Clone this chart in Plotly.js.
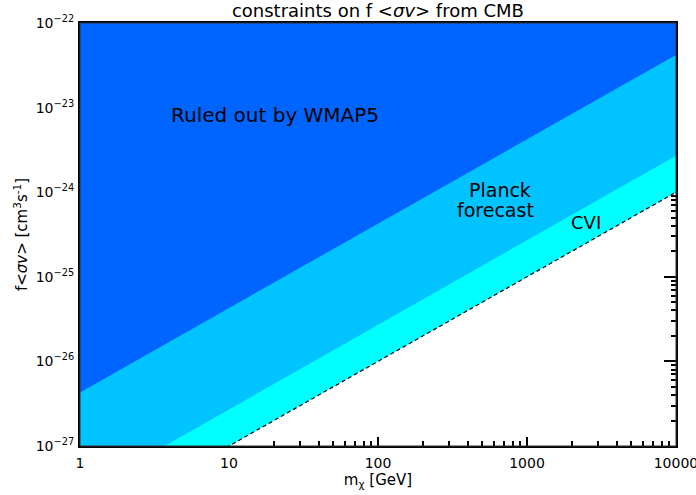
<!DOCTYPE html>
<html>
<head>
<meta charset="utf-8">
<script src="https://cdn.plot.ly/plotly-3.0.1.min.js"></script>
<style>html,body{margin:0;padding:0;background:#fff;}#chart{width:696px;height:495px;}</style>
</head>
<body>
<div id="chart"></div>
<script>
// Data (boundaries of each constraint, at the axis ends)
const mass = [1, 10000];                 // m_chi [GeV]
const wmap5 = [4.3e-27, 4.2e-23];        // WMAP5 ruled-out boundary
const planck = [2.7e-28, 2.7e-24];       // Planck forecast boundary
const cvi = [1.0e-28, 1.0e-24];          // cosmic-variance-limited boundary
const yTop = 1e-22;
const xTickVals = [1, 10, 100, 1000, 10000];
const xTickText = ["1", "10", "100", "1000", "10000"];
const yTickVals = [1e-27, 1e-26, 1e-25, 1e-24, 1e-23, 1e-22];
const yTickText = ["10<sup>−27</sup>", "10<sup>−26</sup>", "10<sup>−25</sup>", "10<sup>−24</sup>", "10<sup>−23</sup>", "10<sup>−22</sup>"];

const FONT = "DejaVu Sans, sans-serif";

function region(line, color, name) {
  return {
    type: "scatter", mode: "lines", name: name,
    x: [mass[0], mass[1], mass[1], mass[0], mass[0]],
    y: [line[0], line[1], yTop, yTop, line[0]],
    fill: "toself", fillcolor: color,
    line: {width: 0, color: color},
    hoverinfo: "skip", showlegend: false
  };
}

const traces = [
  region(cvi, "#00ffff", "CVI"),
  region(planck, "#00c3ff", "Planck"),
  region(wmap5, "#0064ff", "WMAP5"),
  {
    type: "scatter", mode: "lines", x: mass, y: cvi,
    line: {color: "#000", width: 1.2, dash: "4px,3px"},
    hoverinfo: "skip", showlegend: false
  }
];

function minorVals(lo, hi) {
  const v = [];
  for (let e = lo; e < hi; e++) for (let k = 2; k <= 9; k++) v.push(k * Math.pow(10, e));
  return v;
}

const layout = {
  width: 696, height: 495,
  margin: {l: 80, r: 20, t: 23, b: 49},
  paper_bgcolor: "#fff", plot_bgcolor: "#fff",
  font: {family: FONT, size: 14, color: "#000"},
  showlegend: false,
  title: {
    text: "constraints on f &lt;<i>σv</i>&gt; from CMB",
    font: {family: FONT, size: 18, color: "#000"},
    x: 0.543, xanchor: "center", y: 0.979, yanchor: "middle"
  },
  xaxis: {
    type: "log", range: [-0.0002, 4.0002],
    tickmode: "array", tickvals: xTickVals, ticktext: xTickText,
    ticks: "inside", ticklen: 9, tickwidth: 2, tickcolor: "#000",
    minor: {tickmode: "array", tickvals: minorVals(0, 4), ticks: "inside", ticklen: 5, tickwidth: 2, tickcolor: "#000"},
    showline: true, linecolor: "#000", linewidth: 2, mirror: "ticks",
    showgrid: false, zeroline: false, layer: "below traces",
    ticklabelstandoff: 3, ticklabeloverflow: "allow",
    tickfont: {family: FONT, size: 14, color: "#000"},
    title: {text: "m<sub>χ</sub> [GeV]", font: {family: FONT, size: 15, color: "#000"}, standoff: 4}
  },
  yaxis: {
    type: "log", range: [-27.0002, -21.9998],
    tickmode: "array", tickvals: yTickVals, ticktext: yTickText,
    ticks: "inside", ticklen: 12, tickwidth: 2, tickcolor: "#000",
    minor: {tickmode: "array", tickvals: minorVals(-27, -22), ticks: "inside", ticklen: 5, tickwidth: 2, tickcolor: "#000"},
    showline: true, linecolor: "#000", linewidth: 2, mirror: "ticks",
    showgrid: false, zeroline: false, layer: "below traces",
    ticklabelstandoff: 1,
    tickfont: {family: FONT, size: 14, color: "#000"},
    title: {text: "f&lt;<i>σv</i>&gt; [cm<sup>3</sup>s<sup>-1</sup>]", font: {family: FONT, size: 15, color: "#000"}, standoff: 4}
  },
  shapes: [{
    type: "rect", xref: "paper", yref: "paper", x0: 0, x1: 1, y0: 0, y1: 1,
    line: {color: "#333", width: 1}, layer: "above"
  }],
  annotations: [
    {text: "Ruled out by WMAP5", xref: "x", yref: "y", x: Math.log10(20.5), y: Math.log10(8.1e-24),
     showarrow: false, font: {family: FONT, size: 20, color: "#000"}},
    {text: "Planck", xref: "x", yref: "y", x: Math.log10(660), y: Math.log10(1.05e-24),
     showarrow: false, font: {family: FONT, size: 19, color: "#000"}},
    {text: "forecast", xref: "x", yref: "y", x: Math.log10(610), y: Math.log10(6.1e-25),
     showarrow: false, font: {family: FONT, size: 19, color: "#000"}},
    {text: "CVI", xref: "x", yref: "y", x: Math.log10(2500), y: Math.log10(4.4e-25),
     showarrow: false, font: {family: FONT, size: 18, color: "#000"}}
  ]
};

Plotly.newPlot("chart", traces, layout, {displayModeBar: false, staticPlot: true});
</script>
</body>
</html>
